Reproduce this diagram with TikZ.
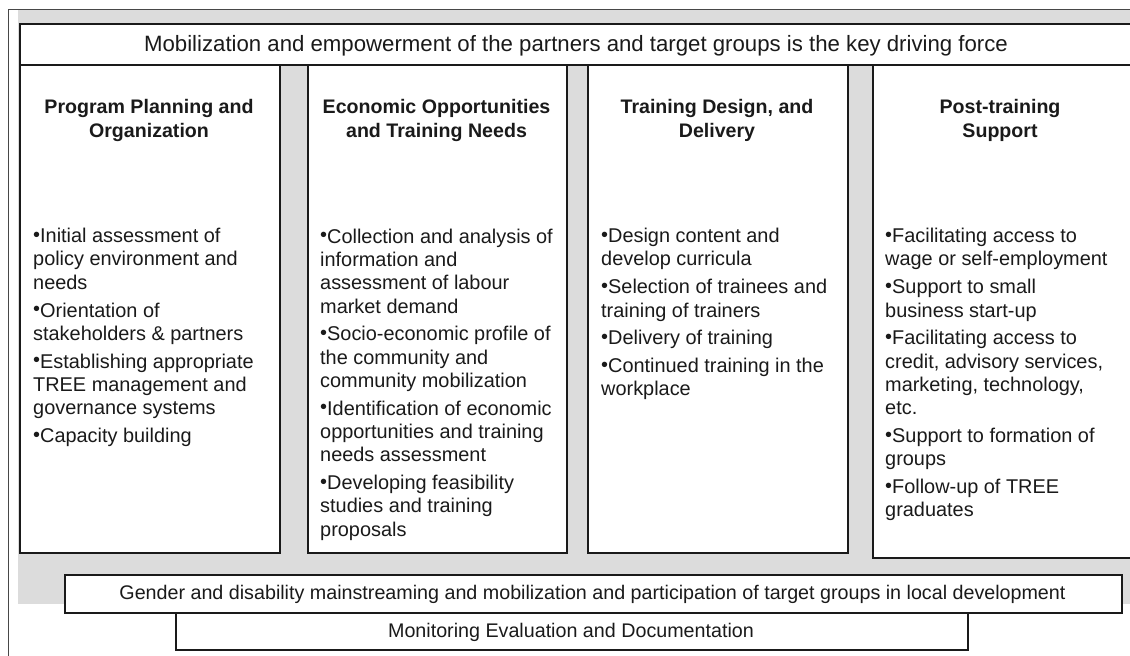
\documentclass[tikz,border=0pt]{standalone}
\usepackage{fontspec}
\setmainfont{Liberation Sans}
\definecolor{bggray}{HTML}{DCDCDC}
\definecolor{ink}{HTML}{1A1A1A}
\newcommand{\bul}{\raisebox{1.5pt}{•}}
\tikzset{
  box/.style={draw=ink, line width=1.6pt, fill=white, rectangle, inner sep=0pt, anchor=north west},
  frame/.style={draw=ink!80, line width=1pt},
  headtext/.style={anchor=north, inner sep=0pt, align=center, text=ink,
    font=\fontsize{19.6}{24}\selectfont\bfseries},
  bodytext/.style={anchor=north west, inner sep=0pt, align=left, text=ink,
    font=\fontsize{19.9}{23.3}\selectfont},
  bandtext/.style={inner sep=0pt, text=ink, font=\fontsize{19.7}{23}\selectfont},
}
\begin{document}
\begin{tikzpicture}[x=1pt,y=-1pt]
\useasboundingbox (0,0) rectangle (1130,656);
\fill[white] (0,0) rectangle (1130,656);
\fill[bggray] (18,10) rectangle (1134,604);
\draw[frame] (8,660) -- (8,9) -- (1134,9);

% top banner
\node[box, minimum width=1115pt, minimum height=41pt] (banner) at (19,23) {};
\node[bandtext, font=\fontsize{22.2}{26}\selectfont] (bannertxt) at (576,45.5) {Mobilization and empowerment of the partners and target groups is the key driving force};

% columns
\node[box, minimum width=260pt, minimum height=488pt] (c1) at (19,64) {};
\node[box, minimum width=259pt, minimum height=488pt] (c2) at (307,64) {};
\node[box, minimum width=260pt, minimum height=488pt] (c3) at (587,64) {};
\node[box, minimum width=262pt, minimum height=493pt, line width=2pt] (c4) at (872,64) {};

% headings
\node[headtext] (h1) at (149,99.5) {Program Planning and\\Organization};
\node[headtext] (h2) at (436.5,99.5) {Economic Opportunities\\and Training Needs};
\node[headtext] (h3) at (717,99.5) {Training Design, and\\Delivery};
\node[headtext] (h4) at (1000,99.5) {Post-training\\Support};

% bodies
\node[bodytext] (b1) at (33,228) {\bul Initial assessment of\\policy environment and\\needs\\[4.5pt]
\bul Orientation of\\stakeholders \& partners\\[4.5pt]
\bul Establishing appropriate\\TREE management and\\governance systems\\[4.5pt]
\bul Capacity building};

\node[bodytext] (b2) at (320,228.5) {\bul Collection and analysis of\\information and\\assessment of labour\\market demand\\[4.5pt]
\bul Socio-economic profile of\\the community and\\community mobilization\\[4.5pt]
\bul Identification of economic\\opportunities and training\\needs assessment\\[4.5pt]
\bul Developing feasibility\\studies and training\\proposals};

\node[bodytext] (b3) at (601,228) {\bul Design content and\\develop curricula\\[4.5pt]
\bul Selection of trainees and\\training of trainers\\[4.5pt]
\bul Delivery of training\\[4.5pt]
\bul Continued training in the\\workplace};

\node[bodytext] (b4) at (885,228) {\bul Facilitating access to\\wage or self-employment\\[4.5pt]
\bul Support to small\\business start-up\\[4.5pt]
\bul Facilitating access to\\credit, advisory services,\\marketing, technology,\\etc.\\[4.5pt]
\bul Support to formation of\\groups\\[4.5pt]
\bul Follow-up of TREE\\graduates};

% bottom bands
\node[box, minimum width=792pt, minimum height=37pt] (mon) at (175,612) {};
\node[box, minimum width=1057pt, minimum height=38pt] (gender) at (64,574) {};
\node[bandtext] (gendertxt) at (592.5,594.5) {Gender and disability mainstreaming and mobilization and participation of target groups in local development};
\node[bandtext] (montxt) at (571,632) {Monitoring Evaluation and Documentation};
\end{tikzpicture}
\end{document}
